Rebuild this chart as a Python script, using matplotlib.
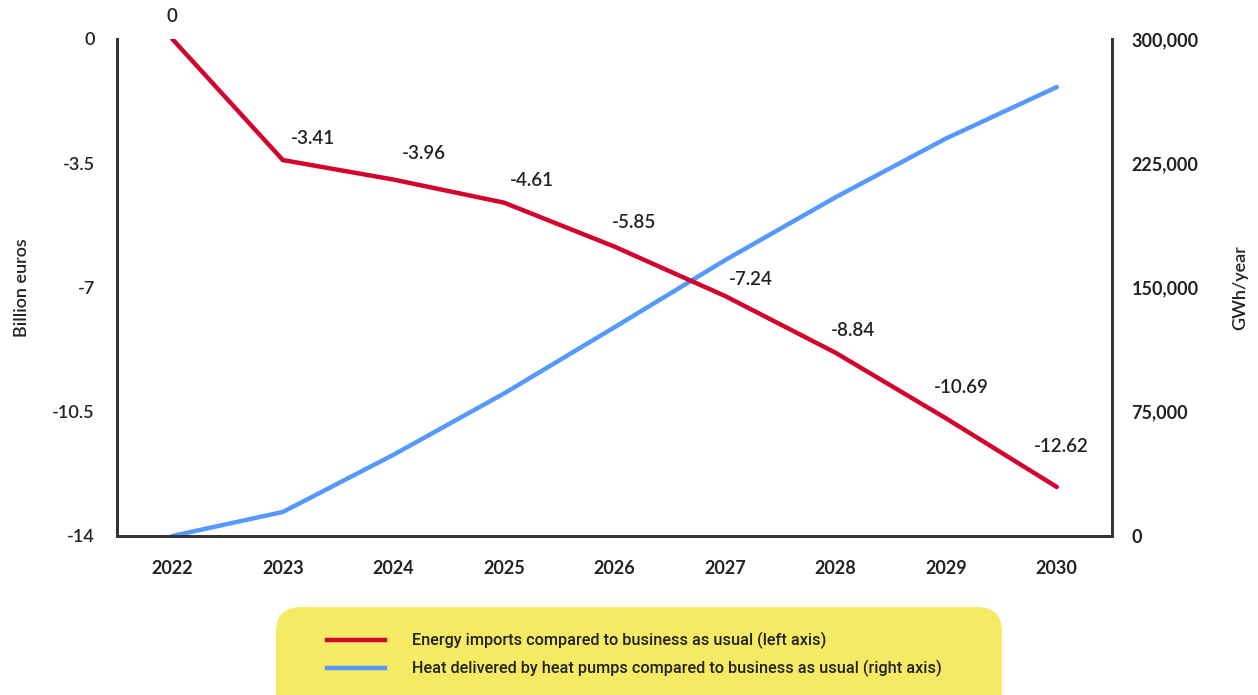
import matplotlib
matplotlib.use("Agg")
import matplotlib.pyplot as plt
from matplotlib.patches import FancyBboxPatch
from matplotlib.lines import Line2D
from matplotlib.ticker import FuncFormatter

years = ["2022", "2023", "2024", "2025", "2026", "2027", "2028", "2029", "2030"]
energy_imports = [0, -3.41, -3.96, -4.61, -5.85, -7.24, -8.84, -10.69, -12.62]
energy_labels = ["0", "-3.41", "-3.96", "-4.61", "-5.85", "-7.24", "-8.84", "-10.69", "-12.62"]
heat_pumps = [0, 14500, 49000, 86000, 126000, 166500, 204500, 240000, 271000]
left_ticks = [0, -3.5, -7, -10.5, -14]
right_ticks = [0, 75000, 150000, 225000, 300000]

RED = "#D2042D"
BLUE = "#5599FF"
YELLOW = "#F5EA64"
DARK = "#222222"
FONT = ["Lato", "DejaVu Sans"]
NARROW = ["Roboto", "DejaVu Sans"]

plt.rcParams["font.family"] = FONT

fig = plt.figure(figsize=(12.58, 6.95), dpi=100)
ax = fig.add_axes([0.093, 0.2288, 0.791, 0.7151])
ax2 = ax.twinx()

x = list(range(len(years)))
ax.plot(x, energy_imports, color=RED, lw=3.2, solid_capstyle="round", zorder=3)
ax2.plot(x, heat_pumps, color=BLUE, lw=3.2, solid_capstyle="round", zorder=2)

ax.set_zorder(ax2.get_zorder() + 1)
ax.patch.set_visible(False)

ax.set_xlim(-0.5, 8.5)
ax.set_ylim(-14, 0)
ax2.set_ylim(0, 300000)

TS = 13
ax.set_xticks(x)
ax.set_xticklabels(years, fontsize=TS, fontweight="bold", color=DARK)
ax.set_yticks(left_ticks)
ax.set_yticklabels([("%g" % v) for v in left_ticks], fontsize=TS, fontweight="semibold", color=DARK)
ax2.set_yticks(right_ticks)
ax2.yaxis.set_major_formatter(FuncFormatter(lambda v, p: f"{int(v):,}"))
for t in ax2.get_yticklabels():
    t.set_fontsize(TS)
    t.set_color(DARK)
    t.set_fontweight("bold")

ax.tick_params(axis="both", length=0)
ax.tick_params(axis="x", pad=17)
ax.tick_params(axis="y", pad=16)
ax2.tick_params(axis="y", length=0, pad=14, labelsize=TS)

for a in (ax, ax2):
    a.spines["top"].set_visible(False)
    for s in ("left", "right", "bottom"):
        a.spines[s].set_color("#333333")
        a.spines[s].set_linewidth(2)

ax.set_ylabel("Billion euros", fontsize=TS, fontweight="semibold", color=DARK, labelpad=16)
ax2.set_ylabel("GWh/year", fontsize=TS, fontweight="semibold", color=DARK, labelpad=24)

# data labels (offsets of label centre in points)
offsets = [(0, 16.5), (21.75, 15.75), (21.75, 18.75), (20.25, 15.75), (14.25, 17.25),
           (18.75, 12), (12.75, 15.75), (10.5, 22.5), (3, 29.25)]
for xi, yi, lab, off in zip(x, energy_imports, energy_labels, offsets):
    ax.annotate(lab, (xi, yi), xytext=off, textcoords="offset points",
                ha="center", va="center", fontsize=13.5, fontweight="semibold",
                color=DARK, annotation_clip=False)

# legend box
box = FancyBboxPatch((276 / 1258, -0.05), (1002 - 276) / 1258, (695 - 607) / 695 + 0.05,
                     boxstyle="round,pad=0,rounding_size=0.02", transform=fig.transFigure,
                     facecolor=YELLOW, edgecolor="none", zorder=0, mutation_aspect=1.8)
fig.patches.append(box)
for yy, col, txt in [(640, RED, "Energy imports compared to business as usual (left axis)"),
                     (668, BLUE, "Heat delivered by heat pumps compared to business as usual (right axis)")]:
    yf = 1 - yy / 695
    fig.add_artist(Line2D([327 / 1258, 385 / 1258], [yf, yf], transform=fig.transFigure,
                          color=col, lw=3.2))
    fig.text(412 / 1258, yf, txt, fontsize=11.7, fontweight="medium", family=NARROW,
             color=DARK, va="center", ha="left")

fig.savefig("out.png", dpi=100)
